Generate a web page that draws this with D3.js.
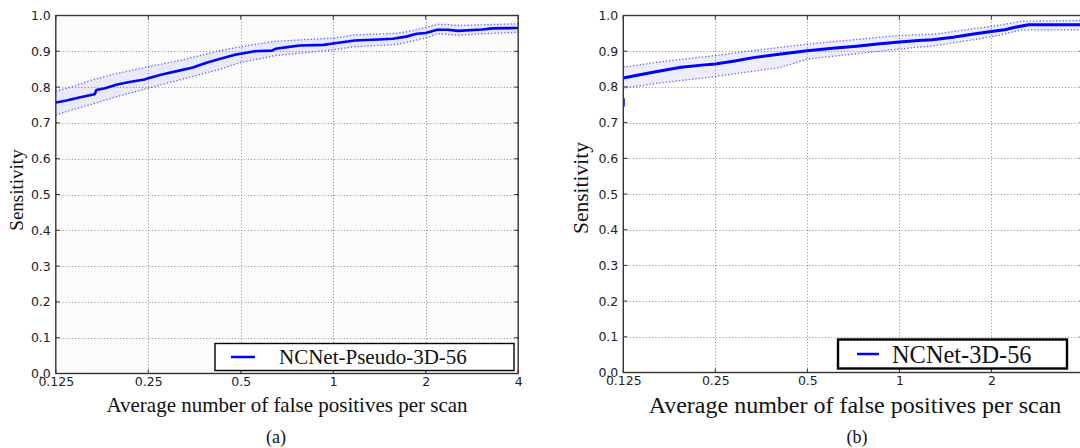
<!DOCTYPE html>
<html>
<head>
<meta charset="utf-8">
<script src="https://cdn.jsdelivr.net/npm/d3@7"></script>
<style>
  html, body { margin: 0; padding: 0; background: #fff; }
  svg { display: block; }
</style>
</head>
<body>
<svg id="chart" width="1080" height="448"></svg>
<script>
// FROC curves: sensitivity vs. average false positives per scan (log2 axis)
const xTicks = [0.125, 0.25, 0.5, 1, 2, 4];
const xTickLabels = ["0.125", "0.25", "0.5", "1", "2", "4"];
const yTicks = [0, 0.1, 0.2, 0.3, 0.4, 0.5, 0.6, 0.7, 0.8, 0.9, 1.0];
const yTickLabels = ["0.0", "0.1", "0.2", "0.3", "0.4", "0.5", "0.6", "0.7", "0.8", "0.9", "1.0"];

// (a) NCNet-Pseudo-3D-56
const pseudoMean = [
  [0.125, 0.757], [0.1344, 0.762], [0.149, 0.771], [0.1673, 0.780], [0.1695, 0.792],
  [0.1808, 0.797], [0.198, 0.807], [0.2194, 0.815], [0.2433, 0.821], [0.25, 0.825],
  [0.2768, 0.835], [0.315, 0.846], [0.349, 0.855], [0.387, 0.868], [0.429, 0.879],
  [0.476, 0.890], [0.5, 0.893], [0.5555, 0.900], [0.632, 0.902], [0.6485, 0.907],
  [0.7, 0.911], [0.777, 0.916], [0.931, 0.918], [1.0, 0.922], [1.174, 0.930],
  [1.406, 0.933], [1.56, 0.935], [1.729, 0.941], [1.869, 0.949], [2.0, 0.951],
  [2.18, 0.960], [2.357, 0.960], [2.546, 0.957], [3.05, 0.961], [3.296, 0.964], [4.0, 0.965]
];
const pseudoUpper = [
  [0.125, 0.788], [0.1452, 0.804], [0.161, 0.818], [0.1929, 0.836], [0.25, 0.857],
  [0.323, 0.876], [0.429, 0.902], [0.5, 0.913], [0.6485, 0.928], [1.0, 0.937],
  [1.174, 0.946], [1.6, 0.950], [1.82, 0.958], [2.0, 0.967], [2.18, 0.975],
  [2.357, 0.975], [2.546, 0.972], [3.05, 0.974], [4.0, 0.977]
];
const pseudoLower = [
  [0.125, 0.722], [0.138, 0.734], [0.161, 0.750], [0.1929, 0.771], [0.25, 0.797],
  [0.323, 0.822], [0.429, 0.850], [0.5, 0.869], [0.6485, 0.888], [1.0, 0.904],
  [1.174, 0.913], [1.6, 0.919], [2.0, 0.937], [2.18, 0.949], [2.546, 0.945],
  [3.05, 0.949], [4.0, 0.953]
];

// (b) NCNet-3D-56
const fullMean = [
  [0.125, 0.825], [0.1416, 0.834], [0.1612, 0.843], [0.1932, 0.855], [0.2258, 0.861],
  [0.25, 0.864], [0.2926, 0.873], [0.3331, 0.882], [0.41, 0.892], [0.5, 0.901],
  [0.605, 0.908], [0.725, 0.914], [0.847, 0.920], [1.0, 0.926], [1.156, 0.930],
  [1.283, 0.932], [1.499, 0.939], [1.75, 0.948], [2.0, 0.955], [2.21, 0.960],
  [2.39, 0.967], [2.65, 0.974], [4.0, 0.974]
];
const fullUpper = [
  [0.125, 0.855], [0.1612, 0.869], [0.25, 0.888], [0.3331, 0.902], [0.5, 0.920],
  [1.0, 0.944], [1.317, 0.948], [1.75, 0.963], [2.1, 0.972], [2.52, 0.984], [4.0, 0.986]
];
const fullLower = [
  [0.125, 0.797], [0.1612, 0.810], [0.25, 0.829], [0.41, 0.855], [0.5, 0.878],
  [1.0, 0.906], [1.317, 0.916], [1.75, 0.932], [2.1, 0.944], [2.52, 0.960], [4.0, 0.960]
];
// tail of the (b) curve entering from below the first tick
const fullTail = [[0.125, 0.745], [0.125, 0.768]];

const W = 1080;
const svg = d3.select("#chart");
const defs = svg.append("defs");

function panel(cfg) {
  const x = d3.scaleLog().base(2).domain([0.125, 4]).range([cfg.x0, cfg.x1]);
  const y = d3.scaleLinear().domain([0, 1]).range([cfg.y0, cfg.y1]);
  const g = svg.append("g");

  defs.append("clipPath").attr("id", cfg.id + "-clip")
    .append("rect").attr("x", cfg.x0).attr("y", cfg.y1)
    .attr("width", cfg.x1 - cfg.x0).attr("height", cfg.y0 - cfg.y1);

  g.append("rect").attr("x", cfg.x0).attr("y", cfg.y1)
    .attr("width", cfg.x1 - cfg.x0).attr("height", cfg.y0 - cfg.y1)
    .attr("fill", cfg.bg);

  // dotted grid
  const grid = g.append("g").attr("stroke", "#8a8a8a").attr("stroke-width", 1)
    .attr("stroke-dasharray", "1,2.2").attr("fill", "none");
  grid.selectAll(".gx").data(xTicks.slice(1, -1)).join("line")
    .attr("x1", d => Math.round(x(d)) + 0.5).attr("x2", d => Math.round(x(d)) + 0.5)
    .attr("y1", cfg.y1).attr("y2", cfg.y0);
  grid.selectAll(".gy").data(yTicks.slice(1, -1)).join("line")
    .attr("y1", d => Math.round(y(d)) + 0.5).attr("y2", d => Math.round(y(d)) + 0.5)
    .attr("x1", cfg.x0).attr("x2", cfg.x1);

  const plot = g.append("g").attr("clip-path", `url(#${cfg.id}-clip)`);

  // confidence band between the bounds (bounds resampled on a shared x grid)
  const band = d3.area()
    .x(d => x(d[0]))
    .y0(d => y(d[1]))
    .y1(d => y(d[2]));
  const xs = d3.sort(Array.from(new Set(cfg.upper.map(d => d[0]).concat(cfg.lower.map(d => d[0])))));
  const interp = (arr, v) => {
    for (let i = 0; i < arr.length - 1; i++) {
      if (v >= arr[i][0] && v <= arr[i + 1][0]) {
        const t = (Math.log2(v) - Math.log2(arr[i][0])) / (Math.log2(arr[i + 1][0]) - Math.log2(arr[i][0]) || 1);
        return arr[i][1] + t * (arr[i + 1][1] - arr[i][1]);
      }
    }
    return arr[arr.length - 1][1];
  };
  const bandData = xs.map(v => [v, interp(cfg.lower, v), interp(cfg.upper, v)]);
  plot.append("path").datum(bandData).attr("d", band)
    .attr("fill", "#0000ff").attr("fill-opacity", 0.07);

  const line = d3.line().x(d => x(d[0])).y(d => y(d[1]));
  [cfg.upper, cfg.lower].forEach(b => {
    plot.append("path").datum(b).attr("d", line)
      .attr("fill", "none").attr("stroke", "#3b3bff").attr("stroke-opacity", 0.8)
      .attr("stroke-width", 1.3).attr("stroke-dasharray", "1.3,2");
  });
  if (cfg.tail) {
    plot.append("path").datum(cfg.tail).attr("d", line)
      .attr("fill", "none").attr("stroke", "#0000ff").attr("stroke-width", cfg.lw);
  }
  plot.append("path").datum(cfg.mean).attr("d", line)
    .attr("fill", "none").attr("stroke", "#0000ff").attr("stroke-width", cfg.lw)
    .attr("stroke-linejoin", "round");

  // inward tick marks on all four sides
  const tk = g.append("g").attr("stroke", "#333").attr("stroke-width", 1);
  tk.selectAll(".tb").data(xTicks).join("line")
    .attr("x1", d => x(d)).attr("x2", d => x(d)).attr("y1", cfg.y0).attr("y2", cfg.y0 - 4);
  tk.selectAll(".tt").data(xTicks).join("line")
    .attr("x1", d => x(d)).attr("x2", d => x(d)).attr("y1", cfg.y1).attr("y2", cfg.y1 + 4);
  tk.selectAll(".tl").data(yTicks).join("line")
    .attr("y1", d => y(d)).attr("y2", d => y(d)).attr("x1", cfg.x0).attr("x2", cfg.x0 + 4);
  tk.selectAll(".tr").data(yTicks).join("line")
    .attr("y1", d => y(d)).attr("y2", d => y(d)).attr("x1", cfg.x1).attr("x2", cfg.x1 - 4);

  // frame
  g.append("rect").attr("x", cfg.x0).attr("y", cfg.y1)
    .attr("width", cfg.x1 - cfg.x0).attr("height", cfg.y0 - cfg.y1)
    .attr("fill", "none").attr("stroke", "#333").attr("stroke-width", 1.4);

  // axis tick labels (only those whose tick falls inside the figure)
  const shownX = xTicks.filter(d => x(d) < W - 2);
  const xAxis = d3.axisBottom(x).tickValues(shownX)
    .tickFormat(d => xTickLabels[xTicks.indexOf(d)]).tickSize(0).tickPadding(4);
  const yAxis = d3.axisLeft(y).tickValues(yTicks)
    .tickFormat((d, i) => yTickLabels[i]).tickSize(0).tickPadding(5);
  const ax = g.append("g").attr("transform", `translate(0,${cfg.y0})`).call(xAxis);
  const ay = g.append("g").attr("transform", `translate(${cfg.x0},0)`).call(yAxis);
  [ax, ay].forEach(a => {
    a.select(".domain").remove();
    a.selectAll("text").attr("font-family", "DejaVu Sans").attr("font-size", 12.5).attr("fill", "#222");
  });

  svg.append("text").attr("x", cfg.ylabX).attr("y", cfg.ylabY)
    .attr("transform", `rotate(-90,${cfg.ylabX},${cfg.ylabY})`)
    .attr("text-anchor", "middle").attr("dominant-baseline", "central")
    .attr("font-family", "Liberation Serif").attr("font-size", cfg.ylabSize).attr("fill", "#111")
    .text("Sensitivity");
  svg.append("text").attr("x", cfg.xlabX).attr("y", cfg.xlabY)
    .attr("text-anchor", "middle")
    .attr("font-family", "Liberation Serif").attr("font-size", cfg.xlabSize).attr("fill", "#111")
    .text("Average number of false positives per scan");
  svg.append("text").attr("x", cfg.capX).attr("y", 443)
    .attr("text-anchor", "middle")
    .attr("font-family", "Liberation Serif").attr("font-size", 18).attr("fill", "#111")
    .text(cfg.caption);

  // legend
  const L = cfg.legend;
  const lg = svg.append("g");
  lg.append("rect").attr("x", L.x).attr("y", L.y).attr("width", L.w).attr("height", L.h)
    .attr("fill", "#fff").attr("stroke", "#000").attr("stroke-width", L.bw);
  lg.append("line").attr("x1", L.lx0).attr("x2", L.lx1)
    .attr("y1", L.y + L.h / 2).attr("y2", L.y + L.h / 2)
    .attr("stroke", "#0000ff").attr("stroke-width", 2.5);
  lg.append("text").attr("x", L.tx).attr("y", L.y + L.h / 2)
    .attr("dominant-baseline", "central")
    .attr("font-family", "Liberation Serif").attr("font-size", L.fs).attr("fill", "#111")
    .text(cfg.name);
}

panel({
  id: "a", x0: 55.8, x1: 518.2, y0: 373.5, y1: 15.5, bg: "#fbfbfb",
  mean: pseudoMean, upper: pseudoUpper, lower: pseudoLower, lw: 2.6,
  ylabX: 16, ylabY: 190, ylabSize: 19,
  xlabX: 287, xlabY: 412, xlabSize: 21,
  capX: 276, caption: "(a)",
  name: "NCNet-Pseudo-3D-56",
  legend: { x: 215, y: 343.5, w: 299, h: 27, bw: 1.4, lx0: 231, lx1: 255, tx: 279, fs: 21 }
});

panel({
  id: "b", x0: 623.3, x1: 1083.4, y0: 372.5, y1: 15.5, bg: "#ffffff",
  mean: fullMean, upper: fullUpper, lower: fullLower, tail: fullTail, lw: 3,
  ylabX: 581, ylabY: 188, ylabSize: 21.5,
  xlabX: 855, xlabY: 413, xlabSize: 24,
  capX: 857, caption: "(b)",
  name: "NCNet-3D-56",
  legend: { x: 838, y: 339.5, w: 229, h: 29, bw: 2.4, lx0: 857, lx1: 879, tx: 892, fs: 24.4 }
});
</script>
</body>
</html>
